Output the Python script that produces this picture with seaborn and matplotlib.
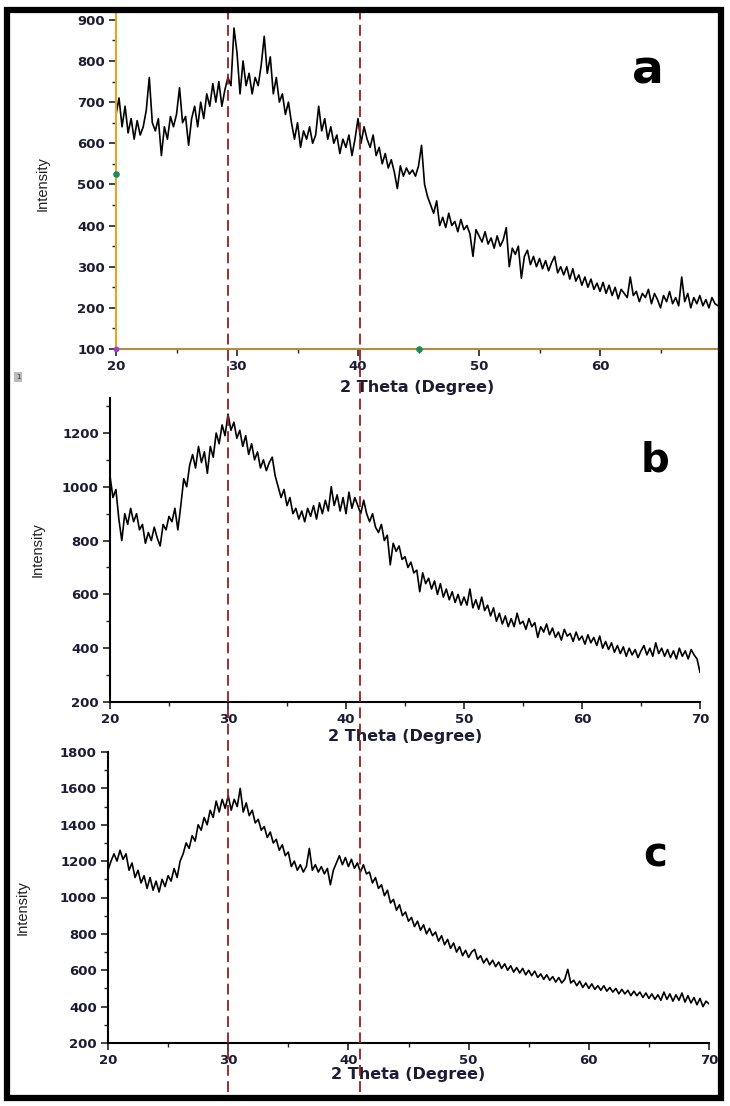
import numpy as np
import matplotlib.pyplot as plt
import seaborn as sns
from matplotlib.patches import Rectangle
from matplotlib.ticker import MultipleLocator

# 2 theta sampling grid (0.25 deg step, 20 -> 70)
two_theta = np.arange(20, 70.001, 0.25)

# intensities (4 points per degree)
intensity_a = [
    670, 710, 640, 690,  625, 660, 610, 655,  620, 640, 680, 760,  650, 630, 660, 570,
    640, 610, 665, 640,  670, 735, 650, 665,  595, 660, 690, 640,  700, 660, 720, 690,
    745, 700, 750, 690,  730, 760, 740, 880,  820, 720, 800, 740,  770, 720, 760, 740,
    790, 860, 770, 810,  720, 760, 700, 720,  670, 700, 650, 610,  650, 590, 630, 610,
    640, 600, 620, 690,  630, 660, 610, 640,  600, 620, 575, 610,  590, 620, 570, 610,
    660, 600, 640, 610,  590, 620, 570, 590,  550, 575, 540, 560,  530, 490, 545, 520,
    540, 525, 535, 520,  545, 595, 500, 470,  450, 430, 460, 400,  420, 395, 430, 400,
    410, 385, 415, 390,  400, 380, 325, 390,  375, 360, 385, 355,  370, 345, 375, 350,
    365, 395, 300, 345,  330, 350, 272, 325,  340, 305, 325, 300,  320, 295, 315, 290,
    310, 325, 285, 300,  280, 300, 270, 295,  265, 280, 255, 275,  250, 270, 245, 260,
    240, 262, 235, 255,  230, 250, 222, 245,  235, 225, 275, 230,  240, 215, 235, 225,
    245, 210, 235, 220,  200, 230, 215, 240,  210, 225, 205, 275,  215, 235, 200, 225,
    210, 230, 205, 220,  200, 225, 210, 205,  215,
]
intensity_b = [
    1040, 960, 990, 880,  800, 900, 860, 920,  870, 900, 840, 860,  790, 830, 800, 850,
    810, 780, 860, 840,  890, 870, 920, 840,  930, 1030, 1000, 1080,  1120, 1070, 1150, 1090,
    1130, 1050, 1150, 1110,  1200, 1160, 1230, 1190,  1270, 1210, 1240, 1180,  1210, 1150, 1190, 1120,
    1160, 1100, 1130, 1070,  1100, 1060, 1090, 1110,  1040, 1000, 960, 990,  930, 960, 900, 920,
    880, 910, 870, 920,  890, 930, 880, 940,  900, 950, 910, 1000,  930, 970, 910, 960,
    900, 980, 920, 960,  930, 900, 950, 900,  870, 900, 850, 830,  860, 800, 820, 710,
    790, 760, 780, 730,  740, 700, 720, 680,  690, 610, 680, 640,  660, 620, 650, 600,
    640, 590, 620, 580,  610, 570, 600, 560,  590, 560, 620, 550,  580, 545, 590, 540,
    560, 520, 550, 500,  530, 490, 520, 480,  510, 480, 530, 490,  500, 470, 510, 480,
    495, 440, 480, 460,  490, 450, 475, 440,  460, 430, 470, 445,  455, 425, 460, 430,
    445, 415, 450, 420,  440, 410, 445, 400,  425, 395, 420, 385,  410, 380, 405, 370,
    400, 375, 395, 365,  390, 410, 375, 400,  370, 420, 380, 400,  370, 395, 365, 390,
    360, 400, 370, 390,  360, 395, 375, 360,  310,
]
intensity_c = [
    1150, 1200, 1240, 1200,  1260, 1210, 1240, 1150,  1190, 1110, 1150, 1080,  1120, 1050, 1110, 1040,
    1090, 1030, 1100, 1060,  1120, 1090, 1160, 1110,  1200, 1240, 1300, 1270,  1340, 1310, 1400, 1370,
    1440, 1400, 1480, 1440,  1530, 1470, 1540, 1490,  1560, 1480, 1540, 1500,  1600, 1470, 1520, 1450,
    1480, 1410, 1430, 1370,  1390, 1330, 1360, 1300,  1320, 1260, 1290, 1230,  1250, 1170, 1200, 1150,
    1180, 1140, 1170, 1270,  1150, 1180, 1140, 1170,  1130, 1160, 1070, 1150,  1190, 1230, 1180, 1220,
    1170, 1210, 1160, 1190,  1140, 1180, 1130, 1140,  1080, 1110, 1050, 1070,  1010, 1040, 970, 990,
    930, 960, 900, 920,  870, 890, 840, 870,  820, 850, 800, 830,  790, 810, 760, 790,
    740, 770, 720, 750,  700, 730, 680, 710,  670, 700, 715, 660,  680, 640, 665, 630,
    655, 620, 645, 610,  635, 600, 625, 590,  615, 585, 610, 575,  600, 570, 595, 560,
    580, 550, 575, 545,  565, 535, 560, 530,  550, 605, 530, 545,  515, 540, 505, 530,
    500, 525, 495, 515,  490, 515, 485, 505,  480, 500, 470, 495,  470, 490, 460, 485,
    460, 480, 450, 475,  445, 470, 440, 465,  435, 480, 440, 470,  430, 465, 435, 475,
    425, 460, 420, 450,  410, 445, 400, 430,  415,
]

panel_letters = ['a', 'b', 'c']
y_limits = [(100, 919), (200, 1330), (200, 1800)]
y_major = [100, 200, 200]
x_limits = [(20, 69.75), (20, 70), (20, 70)]
peak_positions = [30, 41]

sns.set_theme(style='ticks')
plt.rcParams['font.family'] = ['DejaVu Sans']

W, H = 730, 1106
fig = plt.figure(figsize=(W / 100, H / 100), dpi=100)

# axes boxes in pixels: left, top, right, bottom
boxes = [(116, 12, 718, 349), (110, 398, 700, 702), (108, 752, 709, 1043)]
letter_pos = [(0.884, 0.789, 34), (0.924, 0.757, 29), (0.91, 0.605, 29)]
ylab_pos = [(-0.110, 0.49), (-0.110, 0.5), (-0.131, 0.467)]
xlab_y = [-0.092, -0.089, -0.083]

axes = []
for i, data in enumerate([intensity_a, intensity_b, intensity_c]):
    l, t, r, b = boxes[i]
    ax = fig.add_axes([l / W, 1 - b / H, (r - l) / W, (b - t) / H])
    ax.set_facecolor('none')
    sns.lineplot(x=two_theta, y=data, ax=ax, color='black', lw=1.2, estimator=None)
    ax.set_xlim(*x_limits[i])
    ax.set_ylim(*y_limits[i])
    ax.xaxis.set_major_locator(MultipleLocator(10))
    ax.xaxis.set_minor_locator(MultipleLocator(5))
    ax.yaxis.set_major_locator(MultipleLocator(y_major[i]))
    ax.yaxis.set_minor_locator(MultipleLocator(y_major[i] / 2))
    sns.despine(ax=ax)
    ax.tick_params(which='major', direction='out', length=5, width=1.2, pad=3,
                   labelsize=9.5, labelcolor='#1c1c34', color='#222222')
    ax.tick_params(which='minor', direction='out', length=3, width=1.0, color='#222222')
    for lab in ax.get_xticklabels() + ax.get_yticklabels():
        lab.set_fontweight('bold')
    for s in ['left', 'bottom']:
        ax.spines[s].set_linewidth(1.5)
        ax.spines[s].set_color('black')
    ax.set_xlabel('2 Theta (Degree)', fontsize=11.5, fontweight='bold', color='#1c1c34')
    ax.xaxis.set_label_coords(0.5, xlab_y[i])
    ax.set_ylabel('Intensity', fontsize=10.5, family=['Liberation Sans', 'DejaVu Sans'],
                  color='#222222')
    ax.yaxis.set_label_coords(*ylab_pos[i])
    lx, ly, ls = letter_pos[i]
    ax.text(lx, ly, panel_letters[i], transform=ax.transAxes, ha='center', va='baseline',
            fontsize=ls, fontweight='heavy', color='black')
    axes.append(ax)

# panel a has the highlighted (selected layer) axes from Origin
ax_a = axes[0]
ax_a.spines['left'].set_color('#e8a41c')
ax_a.spines['bottom'].set_color('#b88a3c')
ax_a.scatter([20, 45], [525, 100], s=14, color='#1e8c5a', zorder=5, clip_on=False)
ax_a.scatter([20], [100], s=10, color='#a040c0', zorder=5, clip_on=False)

# dashed reference lines running through all three panels
ax_c = axes[2]
for p in peak_positions:
    ax_c.axvline(p, ymin=-0.168, ymax=3.54, clip_on=False, color='#9b1c1c',
                 lw=1.3, ls=(0, (6, 3)), zorder=6)

# small layer markers on the left margin
for yy, txt in [(377, '1'), (750, '')]:
    fig.text(18 / W, 1 - yy / H, txt, fontsize=5, ha='center', va='center', color='#333333',
             bbox=dict(boxstyle='square,pad=0.3', fc='#bbbbbb', ec='none'))

# thick outer frame
fig.add_artist(Rectangle((6.5 / W, 1 - 1097.5 / H), 714 / W, 1088 / H,
                         transform=fig.transFigure, fill=False, lw=4.5, ec='black'))

fig.savefig('out.png', dpi=100)
